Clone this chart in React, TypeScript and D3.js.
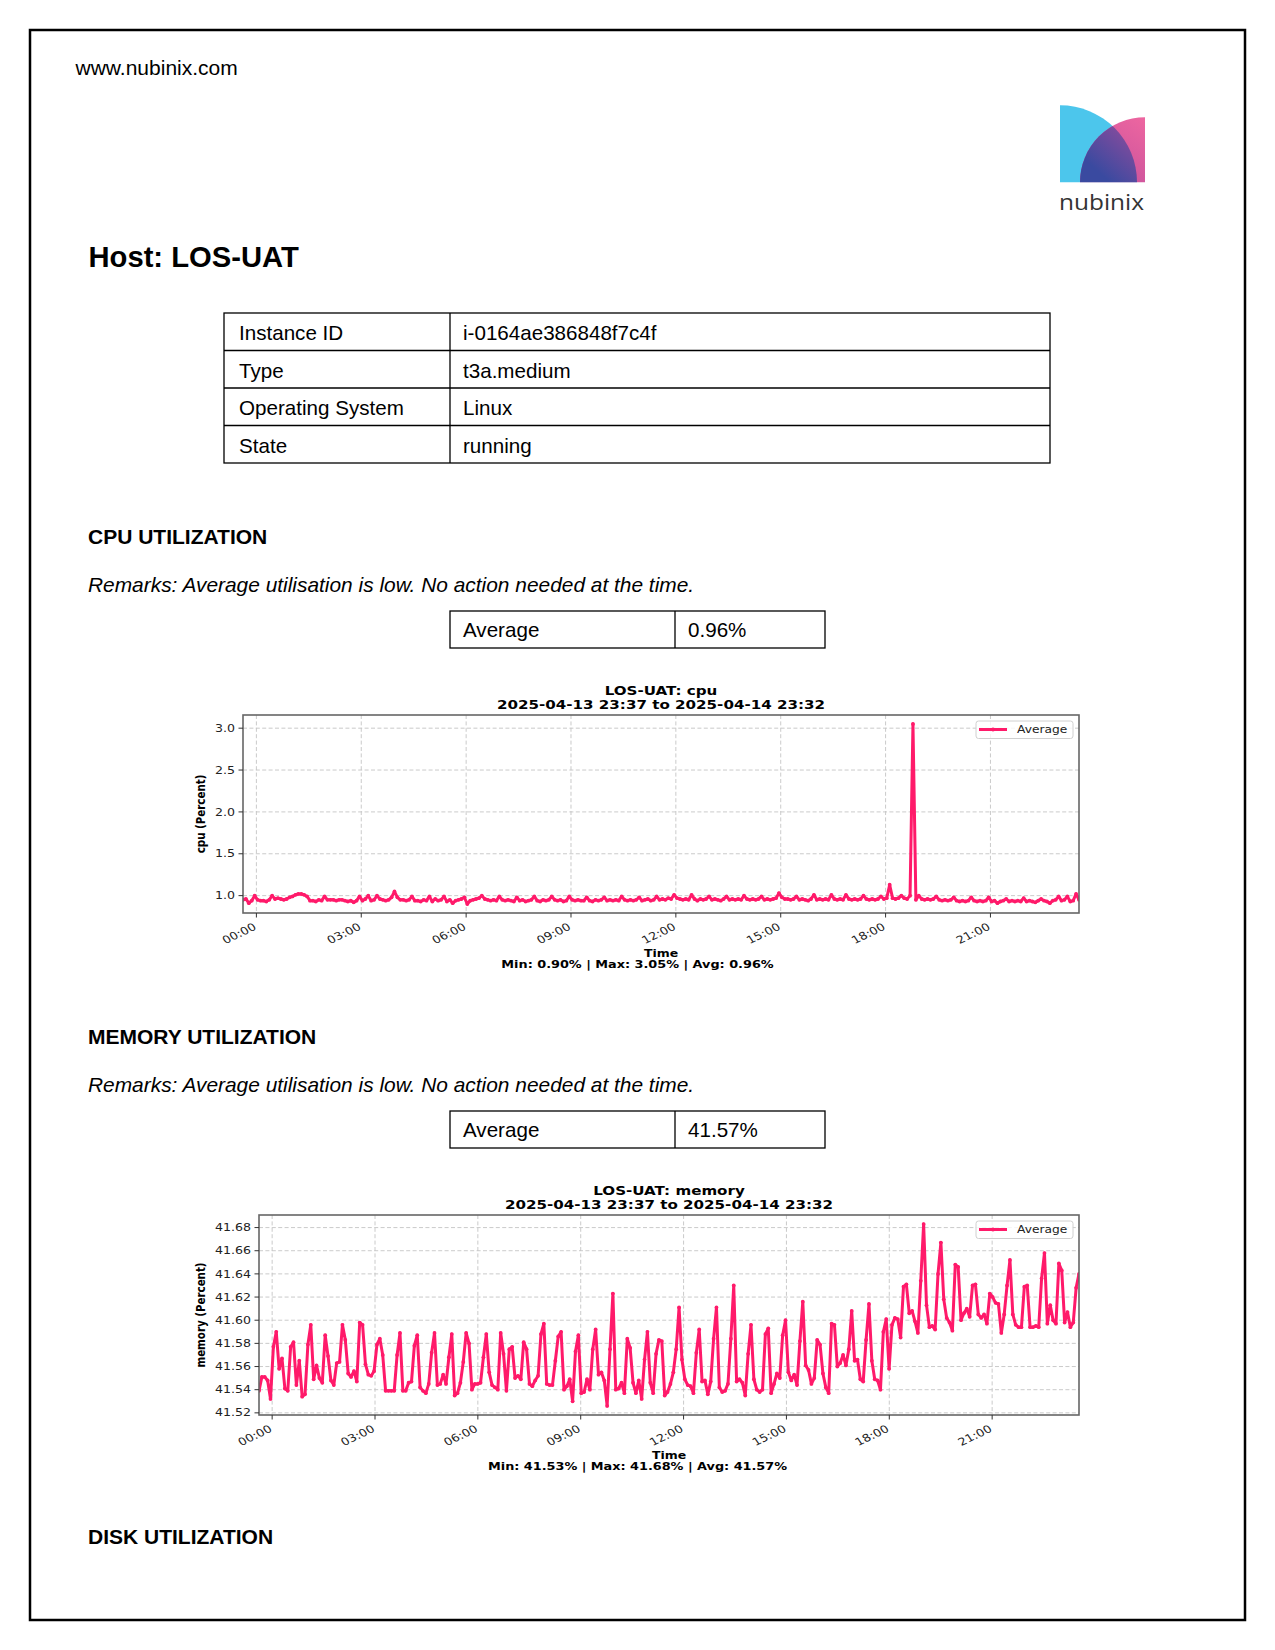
import React from "react";
import * as d3 from "d3";

// ---- report data ----
const HOST = "LOS-UAT";
const RANGE_START = "2025-04-13 23:37";
const RANGE_END = "2025-04-14 23:32";

const infoLabels = ["Instance ID", "Type", "Operating System", "State"];
const infoValues = ["i-0164ae386848f7c4f", "t3a.medium", "Linux", "running"];

const remarks = "Remarks: Average utilisation is low. No action needed at the time.";
const cpuAverage = "0.96%";
const memAverage = "41.57%";
const cpuStats = "Min: 0.90% | Max: 3.05% | Avg: 0.96%";
const memStats = "Min: 41.53% | Max: 41.68% | Avg: 41.57%";

const xTickLabels = ["00:00", "03:00", "06:00", "09:00", "12:00", "15:00", "18:00", "21:00"];
const cpuYTicks = [1.0, 1.5, 2.0, 2.5, 3.0];
const memYTicks = [41.52, 41.54, 41.56, 41.58, 41.6, 41.62, 41.64, 41.66, 41.68];

// 5-minute samples, 23:37 -> 23:32
const cpuValues = [
  0.95, 0.96, 0.91, 0.94, 1.0, 0.95, 0.94, 0.94, 0.93, 0.95, 1.0, 0.96,
  0.97, 0.96, 0.95, 0.96, 0.98, 0.99, 1.01, 1.02, 1.02, 1.01, 0.99, 0.94,
  0.94, 0.93, 0.95, 0.94, 0.99, 0.95, 0.95, 0.95, 0.94, 0.95, 0.95, 0.94,
  0.93, 0.94, 0.92, 0.94, 0.99, 0.94, 0.96, 1.0, 0.94, 0.95, 1.0, 0.96,
  0.95, 0.94, 0.95, 0.98, 1.05, 0.98, 0.95, 0.95, 0.94, 0.95, 0.99, 0.94,
  0.94, 0.93, 0.95, 0.94, 0.99, 0.93, 0.96, 0.94, 0.95, 0.99, 0.93, 0.95,
  0.91, 0.94, 0.95, 0.96, 0.98, 0.9, 0.94, 0.95, 0.96, 0.97, 1.0, 0.96,
  0.95, 0.94, 0.95, 0.94, 0.99, 0.95, 0.94, 0.95, 0.94, 0.93, 0.98, 0.94,
  0.95, 0.93, 0.94, 0.95, 0.99, 0.94, 0.93, 0.95, 0.94, 0.95, 0.99, 0.95,
  0.94, 0.95, 0.93, 0.94, 0.99, 0.95, 0.94, 0.95, 0.94, 0.94, 0.98, 0.94,
  0.93, 0.95, 0.94, 0.95, 0.98, 0.94, 0.95, 0.94, 0.95, 0.94, 0.99, 0.95,
  0.94, 0.95, 0.94, 0.95, 0.98, 0.94, 0.95, 0.96, 0.94, 0.95, 0.99, 0.95,
  0.96, 0.95, 0.97, 0.96, 1.01, 0.97, 0.96, 0.95, 0.96, 0.95, 1.01, 0.96,
  0.94, 0.96, 0.95, 0.96, 0.99, 0.95, 0.96, 0.95, 0.94, 0.96, 0.99, 0.95,
  0.96, 0.95, 0.96, 0.95, 1.0, 0.96, 0.95, 0.96, 0.95, 0.96, 0.99, 0.95,
  0.96, 0.95, 0.96, 0.97, 1.03, 0.98, 0.96, 0.96, 0.95, 0.96, 0.99, 0.95,
  0.96, 0.95, 0.94, 0.96, 1.01, 0.95, 0.96, 0.95, 0.96, 0.95, 1.01, 0.96,
  0.95, 0.96, 0.95, 1.01, 0.96, 0.95, 0.96, 0.95, 0.96, 1.0, 0.96, 0.95,
  0.96, 0.95, 0.96, 0.99, 0.96, 0.97, 1.13, 0.97, 0.96, 0.97, 1.0, 0.97,
  0.96, 1.0, 3.05, 0.95, 1.0, 0.96, 0.95, 0.96, 0.95, 0.96, 0.99, 0.95,
  0.94, 0.95, 0.94, 0.95, 0.98, 0.94, 0.93, 0.94, 0.93, 0.94, 0.98, 0.94,
  0.93, 0.94, 0.93, 0.94, 0.98, 0.93, 0.94, 0.91, 0.93, 0.94, 0.96, 0.93,
  0.94, 0.93, 0.94, 0.93, 0.97, 0.93, 0.94, 0.93, 0.92, 0.94, 0.96, 0.94,
  0.93, 0.91, 0.94, 0.95, 0.99, 0.94, 0.95, 0.99, 0.93, 0.94, 1.02, 0.95,
];

const memValues = [
  41.539, 41.551, 41.551, 41.548, 41.532, 41.577, 41.59, 41.558, 41.567, 41.541,
  41.539, 41.577, 41.581, 41.544, 41.565, 41.534, 41.536, 41.579, 41.596, 41.549,
  41.561, 41.55, 41.546, 41.587, 41.569, 41.548, 41.544, 41.563, 41.564, 41.596,
  41.583, 41.554, 41.551, 41.556, 41.547, 41.598, 41.596, 41.562, 41.553, 41.552,
  41.556, 41.579, 41.584, 41.57, 41.539, 41.539, 41.539, 41.539, 41.57, 41.589,
  41.539, 41.539, 41.546, 41.547, 41.578, 41.587, 41.542, 41.539, 41.537, 41.545,
  41.572, 41.589, 41.544, 41.545, 41.553, 41.545, 41.568, 41.588, 41.535, 41.537,
  41.546, 41.564, 41.589, 41.58, 41.54, 41.545, 41.545, 41.546, 41.568, 41.588,
  41.555, 41.544, 41.542, 41.54, 41.589, 41.571, 41.539,
  41.575, 41.577, 41.55, 41.552, 41.549, 41.581, 41.575, 41.545, 41.543, 41.548,
  41.552, 41.588, 41.597, 41.545, 41.544, 41.544, 41.565, 41.586, 41.59, 41.54,
  41.543, 41.549, 41.53, 41.573, 41.587, 41.537, 41.538, 41.549, 41.54, 41.575,
  41.592, 41.553, 41.555, 41.548, 41.526, 41.575, 41.623, 41.54, 41.541, 41.546,
  41.537, 41.584, 41.576, 41.546, 41.537, 41.548, 41.532, 41.566, 41.59, 41.546,
  41.537, 41.571, 41.583, 41.582, 41.535, 41.538, 41.545, 41.555, 41.575, 41.611,
  41.566, 41.549, 41.544, 41.543, 41.537, 41.572, 41.592, 41.547, 41.548, 41.536,
  41.547, 41.584, 41.611, 41.542, 41.538, 41.539, 41.545, 41.584, 41.63, 41.547,
  41.549, 41.546, 41.535, 41.571, 41.596, 41.549, 41.54, 41.538, 41.54, 41.588,
  41.593, 41.537, 41.545, 41.554, 41.55, 41.587, 41.6, 41.555, 41.548, 41.553,
  41.544, 41.582, 41.616, 41.561, 41.557, 41.545, 41.55, 41.583, 41.579, 41.554,
  41.542, 41.537, 41.597, 41.596, 41.56, 41.563, 41.57, 41.561, 41.575, 41.608,
  41.565, 41.566, 41.549, 41.547, 41.583, 41.614, 41.565, 41.549, 41.548, 41.54,
  41.59, 41.601, 41.558, 41.596, 41.602, 41.601, 41.585, 41.629, 41.631, 41.606,
  41.608, 41.599, 41.589, 41.634, 41.683, 41.613, 41.594, 41.595, 41.592, 41.64,
  41.667, 41.618, 41.602, 41.598, 41.591, 41.648, 41.646, 41.6, 41.606, 41.61,
  41.603, 41.63, 41.631, 41.605, 41.602, 41.605, 41.597, 41.623, 41.62, 41.615,
  41.614, 41.589, 41.605, 41.63, 41.652, 41.605, 41.596, 41.594, 41.594, 41.629,
  41.63, 41.594, 41.594, 41.595, 41.594, 41.636, 41.658, 41.597, 41.613, 41.6,
  41.597, 41.649, 41.643, 41.598, 41.607, 41.594, 41.598, 41.628, 41.64,
];

// ---- helpers ----
const PINK = "#ff1a6a";
const SX = 1.2; // the chart image is stretched horizontally
const CHART_FONT = "DejaVu Sans, sans-serif";
const FIG_CENTER = 637.5;
const parse = d3.timeParse("%Y-%m-%d %H:%M");
const tStart = parse(RANGE_START)!;
const tEnd = parse(RANGE_END)!;

function SText(props: any) {
  const { x, y, rot, children, ...rest } = props;
  const tf = `translate(${x},${y}) scale(${SX},1)` + (rot ? ` rotate(${rot})` : "");
  return (
    <text transform={tf} fontFamily={CHART_FONT} {...rest}>
      {children}
    </text>
  );
}

function MetricChart(props: any) {
  const { id, metric, values, yTicks, yFmt, box, stats } = props;
  const n = values.length;
  const step = (tEnd.getTime() - tStart.getTime()) / (n - 1);
  const times = values.map((_: number, i: number) => new Date(tStart.getTime() + i * step));

  const x = d3.scaleTime().domain([tStart, tEnd]).range([box.left, box.right]);
  const lo = d3.min(values as number[])!;
  const hi = d3.max(values as number[])!;
  const pad = (hi - lo) * 0.05;
  const y = d3.scaleLinear().domain([lo - pad, hi + pad]).range([box.bottom, box.top]);

  const line = d3
    .line<number>()
    .x((_, i) => x(times[i]))
    .y((d) => y(d));

  const xTicks = xTickLabels.map((l) => parse("2025-04-14 " + l)!);
  const cx = (box.left + box.right) / 2;
  const cy = (box.top + box.bottom) / 2;

  return (
    <g>
      <defs>
        <clipPath id={id}>
          <rect x={box.left} y={box.top} width={box.right - box.left} height={box.bottom - box.top} />
        </clipPath>
      </defs>

      {/* title */}
      <SText x={cx} y={box.top - 20} textAnchor="middle" fontSize={12.6} fontWeight="bold">
        {`${HOST}: ${metric}`}
      </SText>
      <SText x={cx} y={box.top - 6} textAnchor="middle" fontSize={12.6} fontWeight="bold">
        {`${RANGE_START} to ${RANGE_END}`}
      </SText>

      {/* grid */}
      {xTicks.map((t, i) => (
        <line key={"gx" + i} x1={x(t)} x2={x(t)} y1={box.top} y2={box.bottom}
          stroke="#c4c4c4" strokeWidth={0.9} strokeDasharray="4 2.4" />
      ))}
      {yTicks.map((v: number, i: number) => (
        <line key={"gy" + i} x1={box.left} x2={box.right} y1={y(v)} y2={y(v)}
          stroke="#c4c4c4" strokeWidth={0.9} strokeDasharray="4 2.4" />
      ))}

      {/* series */}
      <g clipPath={`url(#${id})`}>
        <path d={line(values)!} fill="none" stroke={PINK} strokeWidth={3} strokeLinejoin="round" />
        {values.map((v: number, i: number) => (
          <circle key={i} cx={x(times[i])} cy={y(v)} r={1.9} fill={PINK} />
        ))}
      </g>

      {/* spines */}
      <rect x={box.left} y={box.top} width={box.right - box.left} height={box.bottom - box.top}
        fill="none" stroke="#666" strokeWidth={1.6} />

      {/* y axis */}
      {yTicks.map((v: number, i: number) => (
        <g key={"yt" + i}>
          <line x1={box.left - 4.5} x2={box.left} y1={y(v)} y2={y(v)} stroke="#333" strokeWidth={1} />
          <SText x={box.left - 8} y={y(v)} textAnchor="end" dominantBaseline="central" fontSize={10.5} fill="#222">
            {yFmt(v)}
          </SText>
        </g>
      ))}
      <SText x={201} y={cy} rot={-90} textAnchor="middle" dominantBaseline="central" fontSize={10.3} fontWeight="bold">
        {`${metric} (Percent)`}
      </SText>

      {/* x axis */}
      {xTicks.map((t, i) => (
        <g key={"xt" + i}>
          <line x1={x(t)} x2={x(t)} y1={box.bottom} y2={box.bottom + 4.5} stroke="#333" strokeWidth={1} />
          <SText x={x(t) - 4} y={box.bottom + 9} rot={-30} textAnchor="end" dominantBaseline="hanging"
            fontSize={10.6} fill="#222">
            {xTickLabels[i]}
          </SText>
        </g>
      ))}
      <SText x={cx} y={box.bottom + 44} textAnchor="middle" fontSize={10.4} fontWeight="bold">
        Time
      </SText>
      <SText x={FIG_CENTER} y={box.bottom + 55} textAnchor="middle" fontSize={10.7} fontWeight="bold">
        {stats}
      </SText>

      {/* legend */}
      <g>
        <rect x={box.right - 103} y={box.top + 6} width={97} height={17.5} rx={2.5}
          fill="#fff" fillOpacity={0.8} stroke="#d0d0d0" strokeWidth={1} />
        <line x1={box.right - 100} x2={box.right - 72} y1={box.top + 14.5} y2={box.top + 14.5}
          stroke={PINK} strokeWidth={3} />
        <circle cx={box.right - 86} cy={box.top + 14.5} r={1.9} fill={PINK} />
        <SText x={box.right - 62} y={box.top + 14.5} dominantBaseline="central" fontSize={10.2} fill="#222">
          Average
        </SText>
      </g>
    </g>
  );
}

function AvgTable({ top, value }: { top: number; value: string }) {
  return (
    <g>
      <rect x={450} y={top} width={375} height={37} fill="none" stroke="#000" strokeWidth={1.3} />
      <line x1={675} x2={675} y1={top} y2={top + 37} stroke="#000" strokeWidth={1.3} />
      <text x={463} y={top + 26.4} fontSize={20.6}>Average</text>
      <text x={688} y={top + 26.4} fontSize={20.6}>{value}</text>
    </g>
  );
}

export default function App() {
  const rowH = 37.5;
  const tableTop = 313;
  return (
    <svg width={1275} height={1650} style={{ position: "absolute", left: 0, top: 0 }}
      fontFamily="Liberation Sans, Arial, sans-serif">
      <defs>
        <linearGradient id="pinkGrad" x1="1" y1="0" x2="0.3" y2="1">
          <stop offset="0" stopColor="#ee66a0" />
          <stop offset="1" stopColor="#c4509c" />
        </linearGradient>
        <linearGradient id="darkGrad" x1="0.1" y1="1" x2="0.9" y2="0.1">
          <stop offset="0.2" stopColor="#3a4aa0" />
          <stop offset="1" stopColor="#9a4c9c" />
        </linearGradient>
        <clipPath id="cyanClip">
          <path d="M1060,182.3 L1060,105.3 A77,77 0 0 1 1137,182.3 Z" />
        </clipPath>
      </defs>
      <rect x={0} y={0} width={1275} height={1650} fill="#fff" />
      <rect x={30} y={30} width={1215} height={1590} fill="none" stroke="#000" strokeWidth={2.5} />

      <text x={75.5} y={75} fontSize={21}>www.nubinix.com</text>

      {/* logo */}
      <path d="M1060,182.3 L1060,105.3 A77,77 0 0 1 1137,182.3 Z" fill="#4cc6ec" />
      <path d="M1145,182.3 L1080,182.3 A65,65 0 0 1 1145,117.3 Z" fill="url(#pinkGrad)" />
      <path d="M1145,182.3 L1080,182.3 A65,65 0 0 1 1145,117.3 Z" fill="url(#darkGrad)" clipPath="url(#cyanClip)" />
      <text x={1059} y={210} fontSize={22} fill="#333" fontFamily="Open Sans, sans-serif"
        textLength={85} lengthAdjust="spacingAndGlyphs">nubinix</text>

      <text x={88.5} y={267} fontSize={29.2} fontWeight="bold">{`Host: ${HOST}`}</text>

      {/* instance table */}
      <rect x={224} y={tableTop} width={826} height={rowH * 4} fill="none" stroke="#000" strokeWidth={1.3} />
      <line x1={450} x2={450} y1={tableTop} y2={tableTop + rowH * 4} stroke="#000" strokeWidth={1.3} />
      {infoLabels.map((l, i) => (
        <g key={l}>
          {i > 0 && (
            <line x1={224} x2={1050} y1={tableTop + rowH * i} y2={tableTop + rowH * i} stroke="#000" strokeWidth={1.3} />
          )}
          <text x={239} y={tableTop + rowH * i + 27.3} fontSize={20.6}>{l}</text>
          <text x={463} y={tableTop + rowH * i + 27.3} fontSize={20.6}>{infoValues[i]}</text>
        </g>
      ))}

      {/* CPU */}
      <text x={88} y={544} fontSize={21} fontWeight="bold">CPU UTILIZATION</text>
      <text x={88} y={592} fontSize={20.9} fontStyle="italic">{remarks}</text>
      <AvgTable top={611} value={cpuAverage} />
      <MetricChart id="cpuClip" metric="cpu" values={cpuValues} yTicks={cpuYTicks}
        yFmt={d3.format(".1f")} box={{ left: 243, right: 1079, top: 715, bottom: 913 }} stats={cpuStats} />

      {/* Memory */}
      <text x={88} y={1044} fontSize={21} fontWeight="bold">MEMORY UTILIZATION</text>
      <text x={88} y={1092} fontSize={20.9} fontStyle="italic">{remarks}</text>
      <AvgTable top={1111} value={memAverage} />
      <MetricChart id="memClip" metric="memory" values={memValues} yTicks={memYTicks}
        yFmt={d3.format(".2f")} box={{ left: 259, right: 1079, top: 1215, bottom: 1415 }} stats={memStats} />

      <text x={88} y={1544} fontSize={21} fontWeight="bold">DISK UTILIZATION</text>
    </svg>
  );
}
